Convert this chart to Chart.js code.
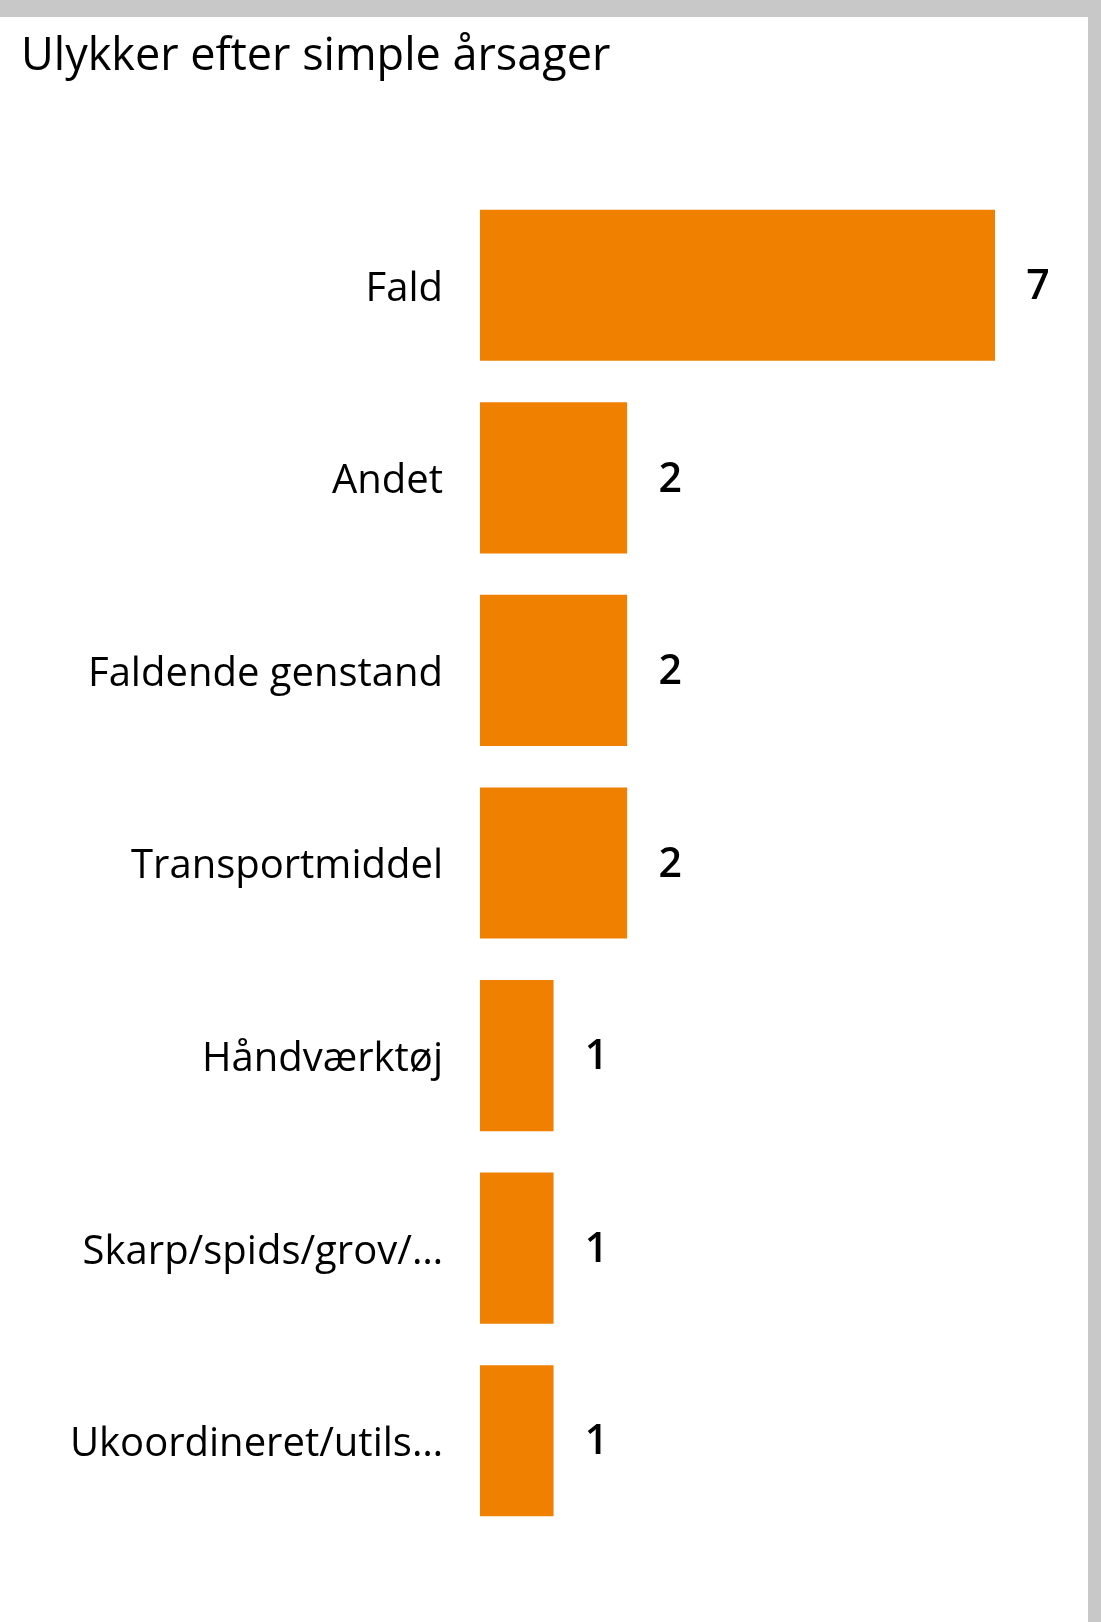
<!DOCTYPE html>
<html>
<head>
<meta charset="utf-8">
<script src="https://cdn.jsdelivr.net/npm/chart.js@4"></script>
<style>
  html, body { margin: 0; padding: 0; }
  body { width: 1101px; height: 1622px; background: #c8c8c8; position: relative; overflow: hidden; }
  #panel { position: absolute; left: 0; top: 17px; width: 1088px; height: 1605px; background: #fff; }
</style>
</head>
<body>
<div id="panel"><canvas id="chart" width="1088" height="1605"></canvas></div>
<script>
const categories = ["Fald", "Andet", "Faldende genstand", "Transportmiddel", "Håndværktøj", "Skarp/spids/grov/…", "Ukoordineret/utils…"];
const counts = [7, 2, 2, 2, 1, 1, 1];
const chartTitle = "Ulykker efter simple årsager";

const FONT = "'Open Sans', 'Noto Sans', sans-serif";

// tegner værdierne til højre for søjlerne
const valueLabels = {
  id: 'valueLabels',
  afterDatasetsDraw(chart) {
    const ctx = chart.ctx;
    const meta = chart.getDatasetMeta(0);
    ctx.save();
    ctx.font = '600 41px ' + FONT;
    ctx.fillStyle = '#000';
    ctx.textAlign = 'center';
    ctx.textBaseline = 'middle';
    meta.data.forEach((bar, i) => {
      ctx.fillText(String(counts[i]), bar.x + 43, bar.y + 2);
    });
    ctx.restore();
  }
};

const ctx = document.getElementById('chart').getContext('2d');
new Chart(ctx, {
  type: 'bar',
  data: {
    labels: categories,
    datasets: [{
      label: 'Antal',
      data: counts,
      backgroundColor: '#F08000',
      borderWidth: 0,
      barPercentage: 0.785,
      categoryPercentage: 1
    }]
  },
  options: {
    indexAxis: 'y',
    responsive: false,
    animation: false,
    layout: {
      padding: { top: 0, right: 93, bottom: 85, left: 21 }
    },
    plugins: {
      legend: { display: false },
      tooltip: { enabled: false },
      title: {
        display: true,
        text: chartTitle,
        align: 'start',
        color: '#000',
        font: { family: FONT, size: 45, weight: 'normal' },
        padding: { top: 13, bottom: 105 }
      }
    },
    scales: {
      x: {
        display: false,
        min: 0,
        max: 7
      },
      y: {
        grid: { display: false },
        border: { display: false },
        afterFit(scale) { scale.width = 459; },
        ticks: {
          color: '#000',
          padding: 29,
          labelOffset: 4,
          font: { family: FONT, size: 40 }
        }
      }
    }
  },
  plugins: [valueLabels]
});
</script>
</body>
</html>
